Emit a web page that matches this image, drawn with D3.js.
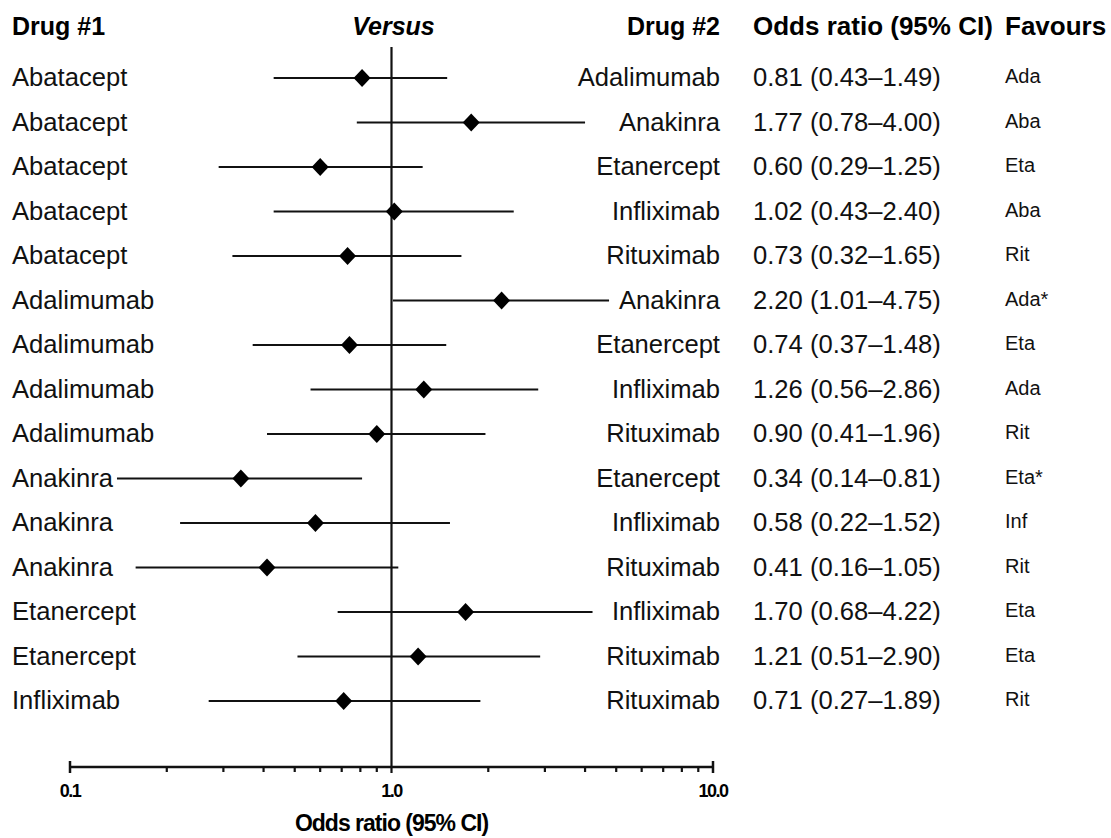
<!DOCTYPE html>
<html>
<head>
<meta charset="utf-8">
<script src="https://cdn.jsdelivr.net/npm/d3@7"></script>
<style>
  html, body { margin: 0; padding: 0; background: #fff; }
  svg { display: block; font-family: "Liberation Sans", Arial, Helvetica, sans-serif; }
</style>
</head>
<body>
<svg id="chart" width="1111" height="838"></svg>
<script>
// Pairwise comparisons: drug #1 versus drug #2
const drug1 = ["Abatacept","Abatacept","Abatacept","Abatacept","Abatacept",
  "Adalimumab","Adalimumab","Adalimumab","Adalimumab",
  "Anakinra","Anakinra","Anakinra","Etanercept","Etanercept","Infliximab"];
const drug2 = ["Adalimumab","Anakinra","Etanercept","Infliximab","Rituximab",
  "Anakinra","Etanercept","Infliximab","Rituximab",
  "Etanercept","Infliximab","Rituximab","Infliximab","Rituximab","Rituximab"];
const oddsRatio = [0.81,1.77,0.60,1.02,0.73,2.20,0.74,1.26,0.90,0.34,0.58,0.41,1.70,1.21,0.71];
const ciLow  = [0.43,0.78,0.29,0.43,0.32,1.01,0.37,0.56,0.41,0.14,0.22,0.16,0.68,0.51,0.27];
const ciHigh = [1.49,4.00,1.25,2.40,1.65,4.75,1.48,2.86,1.96,0.81,1.52,1.05,4.22,2.90,1.89];
const favours = ["Ada","Aba","Eta","Aba","Rit","Ada*","Eta","Ada","Rit","Eta*","Inf","Rit","Eta","Eta","Rit"];
const majorTicks = [0.1, 1, 10];
const majorTickLabels = ["0.1","1.0","10.0"];
const minorTicks = [0.2,0.3,0.4,0.5,0.6,0.7,0.8,0.9,2,3,4,5,6,7,8,9];

const rows = drug1.map((d, i) => ({
  d1: d, d2: drug2[i], or: oddsRatio[i], lo: ciLow[i], hi: ciHigh[i], fav: favours[i]
}));

const svg = d3.select("#chart");
const ink = "#111";

const x = d3.scaleLog().domain([0.1, 10]).range([70, 713]);
const y = d3.scalePoint().domain(d3.range(rows.length)).range([78, 701]);
const axisY = 767;

const fmt = d3.format(".2f");

// Column headers
const hdr = svg.append("g").attr("font-weight", "bold").attr("font-size", 26).attr("fill", "#000");
hdr.append("text").attr("x", 12).attr("y", 35).attr("font-size", 25).text("Drug #1");
hdr.append("text").attr("x", x(1) + 2).attr("y", 35).attr("text-anchor", "middle")
  .attr("font-style", "italic").attr("font-size", 25).text("Versus");
hdr.append("text").attr("x", 720).attr("y", 35).attr("text-anchor", "end").attr("font-size", 25).text("Drug #2");
hdr.append("text").attr("x", 753).attr("y", 35).text("Odds ratio (95% CI)");
hdr.append("text").attr("x", 1005).attr("y", 35).text("Favours");

// Line of no effect
svg.append("line")
  .attr("x1", x(1)).attr("x2", x(1))
  .attr("y1", 47).attr("y2", axisY + 6)
  .attr("stroke", ink).attr("stroke-width", 2.2);

// Confidence intervals and point estimates
const rowG = svg.append("g").selectAll("g").data(rows).join("g")
  .attr("transform", (d, i) => `translate(0,${y(i)})`);

rowG.append("line")
  .attr("x1", d => x(d.lo)).attr("x2", d => x(d.hi))
  .attr("stroke", ink).attr("stroke-width", 2.2);

rowG.append("path")
  .attr("transform", d => `translate(${x(d.or)},0)`)
  .attr("d", "M0,-9L8.5,0L0,9L-8.5,0Z")
  .attr("fill", "#000");

// Row labels
const labelSize = 25.6;
rowG.append("text").attr("x", 12).attr("y", 8).attr("font-size", labelSize).attr("fill", "#111")
  .text(d => d.d1);
rowG.append("text").attr("x", 720).attr("y", 8).attr("font-size", labelSize).attr("fill", "#111")
  .attr("text-anchor", "end").text(d => d.d2);
rowG.append("text").attr("x", 753).attr("y", 8).attr("font-size", labelSize).attr("fill", "#111")
  .text(d => `${fmt(d.or)} (${fmt(d.lo)}\u2013${fmt(d.hi)})`);
rowG.append("text").attr("x", 1005).attr("y", 5).attr("font-size", 20).attr("fill", "#111")
  .text(d => d.fav);

// Log axis
const axisG = svg.append("g").attr("transform", `translate(0,${axisY})`);
axisG.append("line").attr("x1", x(0.1)).attr("x2", x(10))
  .attr("stroke", ink).attr("stroke-width", 2.5);
axisG.selectAll("line.minor").data(minorTicks).join("line").attr("class", "minor")
  .attr("x1", d => x(d)).attr("x2", d => x(d)).attr("y1", 0).attr("y2", 5)
  .attr("stroke", ink).attr("stroke-width", 2.2);
axisG.selectAll("line.cap").data([0.1, 10]).join("line").attr("class", "cap")
  .attr("x1", d => x(d)).attr("x2", d => x(d)).attr("y1", -6).attr("y2", 6)
  .attr("stroke", ink).attr("stroke-width", 2.5);
axisG.selectAll("text").data(majorTicks).join("text")
  .attr("x", d => x(d)).attr("y", 30).attr("text-anchor", "middle")
  .attr("font-size", 18).attr("font-weight", "bold").attr("letter-spacing", -1.5)
  .text((d, i) => majorTickLabels[i]);

svg.append("text").attr("x", x(1)).attr("y", 831).attr("text-anchor", "middle")
  .attr("font-size", 23).attr("font-weight", "bold").attr("letter-spacing", -1)
  .text("Odds ratio (95% CI)");
</script>
</body>
</html>
